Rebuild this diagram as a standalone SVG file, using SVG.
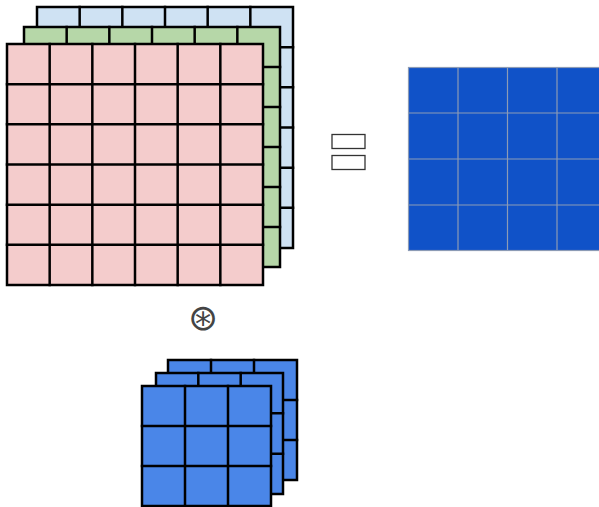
<svg xmlns="http://www.w3.org/2000/svg" width="599" height="507" viewBox="0 0 599 507">
<style>
.g{stroke:#000;stroke-width:2.5;fill:none;stroke-linecap:square}
.b{stroke:#000;stroke-width:2.5}
.lb{fill:#cfe2f3}.gr{fill:#b6d7a8}.pk{fill:#f4cccc}.kn{fill:#4a86e8}
.out{fill:#1052c8;stroke:#8c9bb5;stroke-width:1.2}
.ol{stroke:#8c9bb5;stroke-width:1.2;fill:none}
.eq{fill:#fff;stroke:#333;stroke-width:1.3}
</style>
<rect width="599" height="507" fill="#fff"/>
<g id="input-channel-3">
<rect class="lb b" x="37" y="7" width="256" height="241"/>
<path class="g" d="M79.67 7V248M122.33 7V248M165 7V248M207.67 7V248M250.33 7V248M37 47.17H293M37 87.33H293M37 127.5H293M37 167.67H293M37 207.83H293"/>
</g>
<g id="input-channel-2">
<rect class="gr b" x="24" y="27" width="256" height="240"/>
<path class="g" d="M66.67 27V267M109.33 27V267M152 27V267M194.67 27V267M237.33 27V267M24 67H280M24 107H280M24 147H280M24 187H280M24 227H280"/>
</g>
<g id="input-channel-1">
<rect class="pk b" x="7" y="44" width="256" height="241"/>
<path class="g" d="M49.67 44V285M92.33 44V285M135 44V285M177.67 44V285M220.33 44V285M7 84.17H263M7 124.33H263M7 164.5H263M7 204.67H263M7 244.83H263"/>
</g>
<g id="convolve-operator">
<text x="203" y="330" font-family="DejaVu Sans, sans-serif" font-size="36" fill="#444" text-anchor="middle">⊛</text>
</g>
<g id="kernel-3">
<rect class="kn b" x="168" y="360" width="129" height="120"/>
<path class="g" d="M211 360V480M254 360V480M168 400H297M168 440H297"/>
</g>
<g id="kernel-2">
<rect class="kn b" x="156" y="373" width="127" height="121"/>
<path class="g" d="M198.3 373V494M240.7 373V494M156 413.3H283M156 453.7H283"/>
</g>
<g id="kernel-1">
<rect class="kn b" x="142" y="386" width="129" height="120"/>
<path class="g" d="M185 386V506M228 386V506M142 426H271M142 466H271"/>
</g>
<g id="equals">
<rect class="eq" x="332" y="134.5" width="33" height="14"/>
<rect class="eq" x="332" y="155.5" width="33" height="14"/>
</g>
<g id="output">
<rect class="out" x="408.5" y="67.5" width="198" height="183"/>
<path class="ol" d="M458 67.5V250.5M507.5 67.5V250.5M557 67.5V250.5M408.5 113H606.5M408.5 159H606.5M408.5 205H606.5"/>
</g>
<g id="connectors"></g>
</svg>
